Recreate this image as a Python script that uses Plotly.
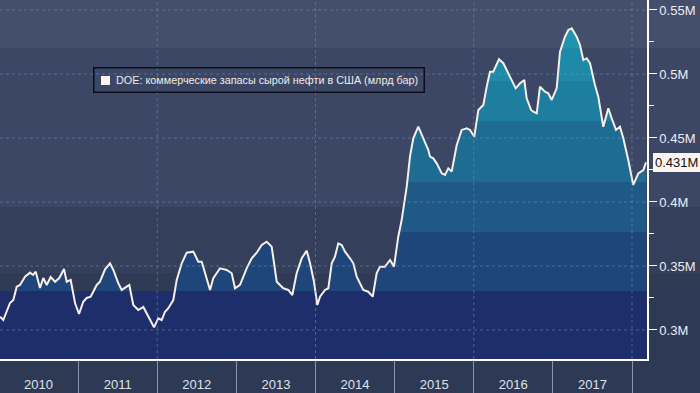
import numpy as np
import plotly.graph_objects as go

# ---- data ----
# time as decimal years, stocks shown in "M" units on the axis
dates = [
    2010.013, 2010.054, 2010.139, 2010.181, 2010.224, 2010.265, 2010.329, 2010.392, 2010.430, 2010.464,
    2010.518, 2010.560, 2010.603, 2010.653, 2010.708, 2010.762, 2010.821, 2010.856, 2010.906, 2010.961,
    2011.011, 2011.065, 2011.108, 2011.159, 2011.235, 2011.276, 2011.340, 2011.403, 2011.445, 2011.508,
    2011.551, 2011.592, 2011.647, 2011.697, 2011.761, 2011.824, 2011.887, 2011.959, 2012.013, 2012.056,
    2012.098, 2012.140, 2012.203, 2012.246, 2012.309, 2012.372, 2012.456, 2012.519, 2012.562, 2012.625,
    2012.667, 2012.708, 2012.793, 2012.878, 2012.941, 2012.983, 2013.046, 2013.130, 2013.194, 2013.257,
    2013.320, 2013.383, 2013.446, 2013.510, 2013.593, 2013.656, 2013.707, 2013.762, 2013.826, 2013.889,
    2013.931, 2013.981, 2014.023, 2014.057, 2014.120, 2014.162, 2014.205, 2014.246, 2014.288, 2014.331,
    2014.373, 2014.436, 2014.478, 2014.521, 2014.562, 2014.604, 2014.667, 2014.723, 2014.773, 2014.815,
    2014.878, 2014.942, 2014.992, 2015.046, 2015.089, 2015.153, 2015.194, 2015.236, 2015.299, 2015.362,
    2015.426, 2015.447, 2015.489, 2015.532, 2015.595, 2015.637, 2015.678, 2015.721, 2015.785, 2015.848,
    2015.911, 2015.953, 2016.007, 2016.058, 2016.121, 2016.164, 2016.205, 2016.247, 2016.319, 2016.374,
    2016.437, 2016.480, 2016.530, 2016.585, 2016.639, 2016.669, 2016.724, 2016.753, 2016.796, 2016.837,
    2016.900, 2016.942, 2016.985, 2017.048, 2017.090, 2017.153, 2017.195, 2017.238, 2017.301, 2017.343,
    2017.385, 2017.428, 2017.469, 2017.532, 2017.574, 2017.637, 2017.701, 2017.743, 2017.798, 2017.848,
    2017.890, 2017.953, 2018.016, 2018.080, 2018.143, 2018.177,
]
stocks = [
    0.3104, 0.3078, 0.3211, 0.3234, 0.3338, 0.3352, 0.3416, 0.3448, 0.3430, 0.3455,
    0.3328, 0.3406, 0.3352, 0.3414, 0.3377, 0.3406, 0.3477, 0.3377, 0.3391, 0.3211,
    0.3125, 0.3221, 0.3250, 0.3260, 0.3352, 0.3377, 0.3474, 0.3521, 0.3469, 0.3365,
    0.3313, 0.3328, 0.3352, 0.3195, 0.3156, 0.3180, 0.3104, 0.3021, 0.3091, 0.3078,
    0.3143, 0.3170, 0.3234, 0.3391, 0.3521, 0.3604, 0.3612, 0.3534, 0.3534, 0.3391,
    0.3313, 0.3404, 0.3482, 0.3469, 0.3443, 0.3326, 0.3352, 0.3482, 0.3560, 0.3604,
    0.3664, 0.3690, 0.3651, 0.3377, 0.3326, 0.3313, 0.3273, 0.3443, 0.3560, 0.3620,
    0.3521, 0.3377, 0.3195, 0.3260, 0.3313, 0.3326, 0.3521, 0.3573, 0.3677, 0.3664,
    0.3612, 0.3560, 0.3521, 0.3416, 0.3365, 0.3313, 0.3299, 0.3260, 0.3443, 0.3495,
    0.3495, 0.3547, 0.3495, 0.3729, 0.3859, 0.4120, 0.4354, 0.4498, 0.4588, 0.4498,
    0.4406, 0.4354, 0.4341, 0.4302, 0.4224, 0.4211, 0.4263, 0.4237, 0.4445, 0.4563,
    0.4576, 0.4563, 0.4510, 0.4719, 0.4758, 0.4901, 0.5018, 0.5018, 0.5115, 0.5084,
    0.5005, 0.4953, 0.4888, 0.4927, 0.4953, 0.4810, 0.4719, 0.4705, 0.4693, 0.4901,
    0.4862, 0.4849, 0.4797, 0.4888, 0.5174, 0.5291, 0.5344, 0.5357, 0.5291, 0.5227,
    0.5109, 0.5123, 0.5084, 0.4914, 0.4823, 0.4588, 0.4732, 0.4654, 0.4563, 0.4588,
    0.4498, 0.4328, 0.4133, 0.4224, 0.4250, 0.4310,
]
series_name = "DOE: коммерческие запасы сырой нефти в США (млрд бар)"
year_labels = ["2010", "2011", "2012", "2013", "2014", "2015", "2016", "2017"]
year_starts = [2011, 2012, 2013, 2014, 2015, 2016, 2017, 2018]
grid_years = [2012, 2014, 2016, 2018]
y_ticks = [0.30, 0.35, 0.40, 0.45, 0.50, 0.55]
last_label = "0.431M"

# value bands for the area fill (lower edges) and their colours
fill_edges = [0.3305, 0.3766, 0.4156, 0.4633, 0.4945, 0.5203]
fill_colors = ["#1e2e6a", "#1f467b", "#1f5a86", "#1f6c93", "#1e7ea0", "#1f89a8", "#2194ad"]
# background bands above the curve
bg_edges = [0.3305, 0.3445, 0.3961, 0.5203]
bg_colors = ["#1e2e6a", "#2f3a55", "#343f5b", "#3b4765", "#434f6b"]

# ---- layout geometry ----
W, H = 700, 393
ML, MR, MT, MB = 0, 53, 0, 34
PW = W - ML - MR
PH = H - MT - MB
X_RANGE = [2010.0126, 2018.1896]
Y_RANGE = [0.27734, 0.5578]


def densify(x, y, levels):
    xs, ys = [x[0]], [y[0]]
    for i in range(1, len(x)):
        x0, y0, x1, y1 = x[i - 1], y[i - 1], x[i], y[i]
        cross = []
        for L in levels:
            if (y0 - L) * (y1 - L) < 0:
                t = (L - y0) / (y1 - y0)
                cross.append((t, x0 + t * (x1 - x0), L))
        cross.sort()
        for _, xx, L in cross:
            xs.append(xx)
            ys.append(L)
        xs.append(x1)
        ys.append(y1)
    return np.array(xs), np.array(ys)


xd, yd = densify(dates, stocks, fill_edges)

fig = go.Figure()

lows = [0.2] + fill_edges
highs = fill_edges + [1.0]
for lo, hi, col in zip(lows, highs, fill_colors):
    fig.add_trace(go.Scatter(x=xd, y=np.full_like(yd, lo), mode="lines",
                             line=dict(width=0), showlegend=False, hoverinfo="skip"))
    fig.add_trace(go.Scatter(x=xd, y=np.clip(yd, lo, hi), mode="lines",
                             line=dict(width=0), fill="tonexty", fillcolor=col,
                             showlegend=False, hoverinfo="skip"))

# main line
fig.add_trace(go.Scatter(x=dates, y=stocks, mode="lines", name=series_name,
                         line=dict(color="#f7efe9", width=2), showlegend=False))

px_per_year = PW / (X_RANGE[1] - X_RANGE[0])
x_mark = X_RANGE[1] + 4 / px_per_year
# arrow heads on right axis ticks
fig.add_trace(go.Scatter(x=[x_mark] * len(y_ticks), y=y_ticks, mode="markers",
                         marker=dict(symbol="triangle-right", size=7, color="white"),
                         cliponaxis=False, showlegend=False, hoverinfo="skip"))
# last value pointer
fig.add_trace(go.Scatter(x=[x_mark], y=[stocks[-1]], mode="markers",
                         marker=dict(symbol="triangle-left", size=11, color="#fdf4ee"),
                         cliponaxis=False, showlegend=False, hoverinfo="skip"))


def yp(v):
    return (v - Y_RANGE[0]) / (Y_RANGE[1] - Y_RANGE[0])


shapes = []
b_lo = [Y_RANGE[0]] + bg_edges
b_hi = bg_edges + [Y_RANGE[1]]
for i, (lo, hi, col) in enumerate(zip(b_lo, b_hi, bg_colors)):
    shapes.append(dict(type="rect", xref="paper", yref="paper", x0=0,
                       x1=1 if i == 0 else W / PW,
                       y0=max(0, yp(lo)), y1=min(1, yp(hi)) if i < len(bg_colors) - 1 else 1,
                       fillcolor=col, line=dict(width=0), layer="below"))
grid_style = dict(color="rgba(120,160,200,0.45)", width=1, dash="dot")
for v in y_ticks:
    shapes.append(dict(type="line", xref="paper", yref="y", x0=0, x1=1, y0=v, y1=v,
                       line=grid_style, layer="above"))
for g in grid_years:
    shapes.append(dict(type="line", xref="x", yref="paper", x0=g, x1=g, y0=0, y1=1,
                       line=grid_style, layer="above"))

# legend box (drawn as annotation + square key)
LEG_L, LEG_R, LEG_T, LEG_B = 93, 425, 67, 93
shapes.append(dict(type="rect", xref="paper", yref="paper",
                   x0=101 / PW, x1=110 / PW,
                   y0=1 - 85 / PH, y1=1 - 76 / PH,
                   fillcolor="#fdf2ee", line=dict(width=0), layer="above"))

font = "Liberation Sans, Arial, sans-serif"
annotations = [
    dict(xref="paper", yref="y", x=(PW + 6) / PW, y=stocks[-1],
         xanchor="left", yanchor="middle", text=last_label, showarrow=False,
         font=dict(family=font, size=13, color="#111"),
         bgcolor="#fdf4ee", borderpad=2, bordercolor="#fdf4ee", borderwidth=0),
    dict(xref="paper", yref="paper", x=LEG_L / PW, y=1 - LEG_T / PH,
         xanchor="left", yanchor="top", text=series_name, showarrow=False,
         align="right", width=(LEG_R - LEG_L) - 14, height=(LEG_B - LEG_T) - 14,
         valign="middle",
         font=dict(family=font, size=10.8, color="#f2ebe6"),
         bgcolor="rgba(0,0,0,0)", bordercolor="#0d0f18", borderwidth=1.5, borderpad=5.5),
]

fig.update_layout(
    width=W, height=H,
    margin=dict(l=ML, r=MR, t=MT, b=MB, pad=0),
    paper_bgcolor="#2e3a55",
    plot_bgcolor="#3b4765",
    shapes=shapes,
    annotations=annotations,
    showlegend=False,
    xaxis=dict(range=X_RANGE, showgrid=False, zeroline=False,
               tickmode="array", tickvals=[int(y) + 0.5 for y in year_labels],
               ticktext=year_labels, ticks="outside", ticklen=13,
               tickcolor="rgba(0,0,0,0)",
               tickfont=dict(family=font, size=13, color="#dfe2ea"),
               showline=True, linecolor="white", linewidth=1.5,
               minor=dict(tickmode="array", tickvals=year_starts, ticks="outside",
                          ticklen=34, tickcolor="#8d93a8", tickwidth=1, showgrid=False),
               automargin=False),
    yaxis=dict(range=Y_RANGE, side="right", showgrid=False, zeroline=False,
               tickmode="array", tickvals=y_ticks,
               ticktext=[f"{v:g}M" for v in y_ticks],
               ticks="outside", ticklen=8, tickcolor="white", tickwidth=1,
               tickfont=dict(family=font, size=13, color="#eceef3"),
               showline=True, linecolor="white", linewidth=1.5,
               minor=dict(tickmode="linear", tick0=0.3, dtick=0.025, ticks="outside",
                          ticklen=5, tickcolor="white", showgrid=False),
               automargin=False),
)

fig.write_html("out.html", config={"displayModeBar": False},
               post_script="document.body.style.margin='0px';")
